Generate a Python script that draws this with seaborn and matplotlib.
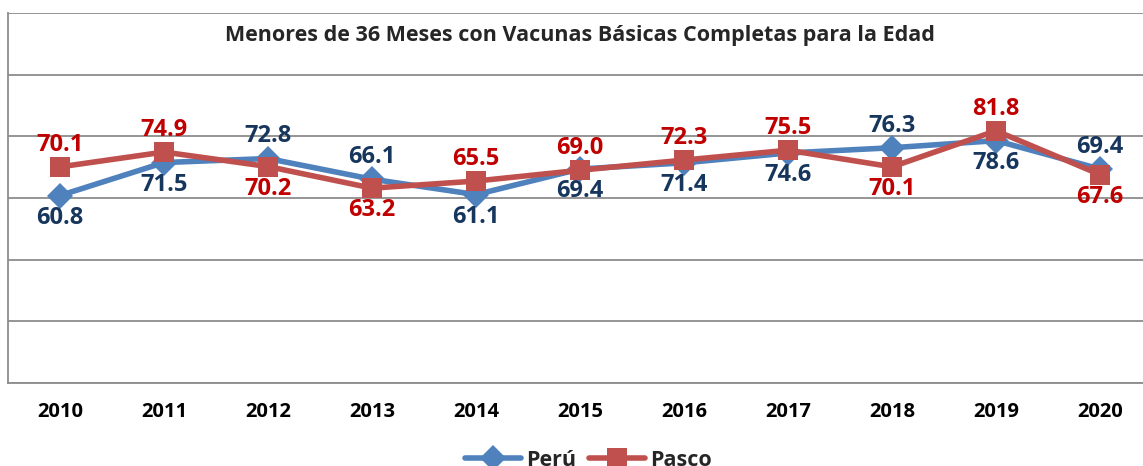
import pandas as pd
import matplotlib
matplotlib.use("Agg")
import matplotlib.pyplot as plt
import seaborn as sb

years = ["2010", "2011", "2012", "2013", "2014", "2015", "2016", "2017", "2018", "2019", "2020"]
peru = [60.8, 71.5, 72.8, 66.1, 61.1, 69.4, 71.4, 74.6, 76.3, 78.6, 69.4]
pasco = [70.1, 74.9, 70.2, 63.2, 65.5, 69.0, 72.3, 75.5, 70.1, 81.8, 67.6]
# label above (+1) or below (-1) the point, as in the original chart
peru_side = [-1, -1, 1, 1, -1, -1, -1, -1, 1, -1, 1]
pasco_side = [1, 1, -1, -1, 1, 1, 1, 1, -1, 1, -1]

sb.set_style("white")
plt.rcParams['font.family'] = ['Open Sans', 'DejaVu Sans']

df = pd.DataFrame({
    "pos": list(range(len(years))) * 2,
    "valor": peru + pasco,
    "serie": ["Perú"] * len(years) + ["Pasco"] * len(years),
})

fig = plt.figure(figsize=(11.43, 4.66), dpi=100)
ax = fig.add_axes([8 / 1143, 83 / 466, 1144 / 1143, 370 / 466])

colors = {"Perú": "#4F81BD", "Pasco": "#C0504D"}
sb.lineplot(data=df, x="pos", y="valor", hue="serie", style="serie",
            palette=colors, markers={"Perú": "D", "Pasco": "s"}, dashes=False,
            linewidth=4, markersize=15, markeredgewidth=0, ax=ax, legend=False)
# diamond a bit smaller
for ln in ax.get_lines():
    if ln.get_marker() == "D":
        ln.set_markersize(13)

for i in range(len(years)):
    ax.annotate(f"{peru[i]:.1f}", (i, peru[i]), xytext=(0, 16 * peru_side[i]),
                textcoords="offset points", ha="center", va="center",
                fontsize=17, fontweight="bold", color="#17365D")
    ax.annotate(f"{pasco[i]:.1f}", (i, pasco[i]), xytext=(0, 16 * pasco_side[i]),
                textcoords="offset points", ha="center", va="center",
                fontsize=17, fontweight="bold", color="#C00000")

ax.set_xlim(-0.5, 10.5)
ax.set_ylim(0, 120)
ax.set_yticks(range(0, 121, 20))
ax.set_yticklabels([])
ax.set_xticks(range(len(years)))
ax.set_xticklabels(years, fontsize=14.5, fontweight="bold", color="black")
ax.tick_params(axis="x", length=0, pad=14)
ax.tick_params(axis="y", length=0)
ax.grid(axis="y", color="#8C8C8C", linewidth=1.3)
ax.set_xlabel("")
ax.set_ylabel("")
for s in ["top", "right"]:
    ax.spines[s].set_visible(False)
ax.spines["left"].set_color("#8C8C8C")
ax.spines["left"].set_linewidth(1.3)
ax.spines["bottom"].set_color("#8C8C8C")
ax.spines["bottom"].set_linewidth(1.3)

ax.text(0.5, 0.94, "Menores de 36 Meses con Vacunas Básicas Completas para la Edad",
        transform=ax.transAxes, ha="center", va="center", fontsize=15.5, fontweight="bold")

h1 = plt.Line2D([], [], color=colors["Perú"], lw=4, marker="D", ms=13, mew=0)
h2 = plt.Line2D([], [], color=colors["Pasco"], lw=4, marker="s", ms=15, mew=0)
fig.legend([h1, h2], ["Perú", "Pasco"], loc="center", bbox_to_anchor=(0.515, 0.012),
           ncol=2, frameon=False, prop={"weight": "bold", "size": 15.5},
           handlelength=2.6, columnspacing=0.6, handletextpad=0.25)

fig.savefig("out.png", dpi=100)
